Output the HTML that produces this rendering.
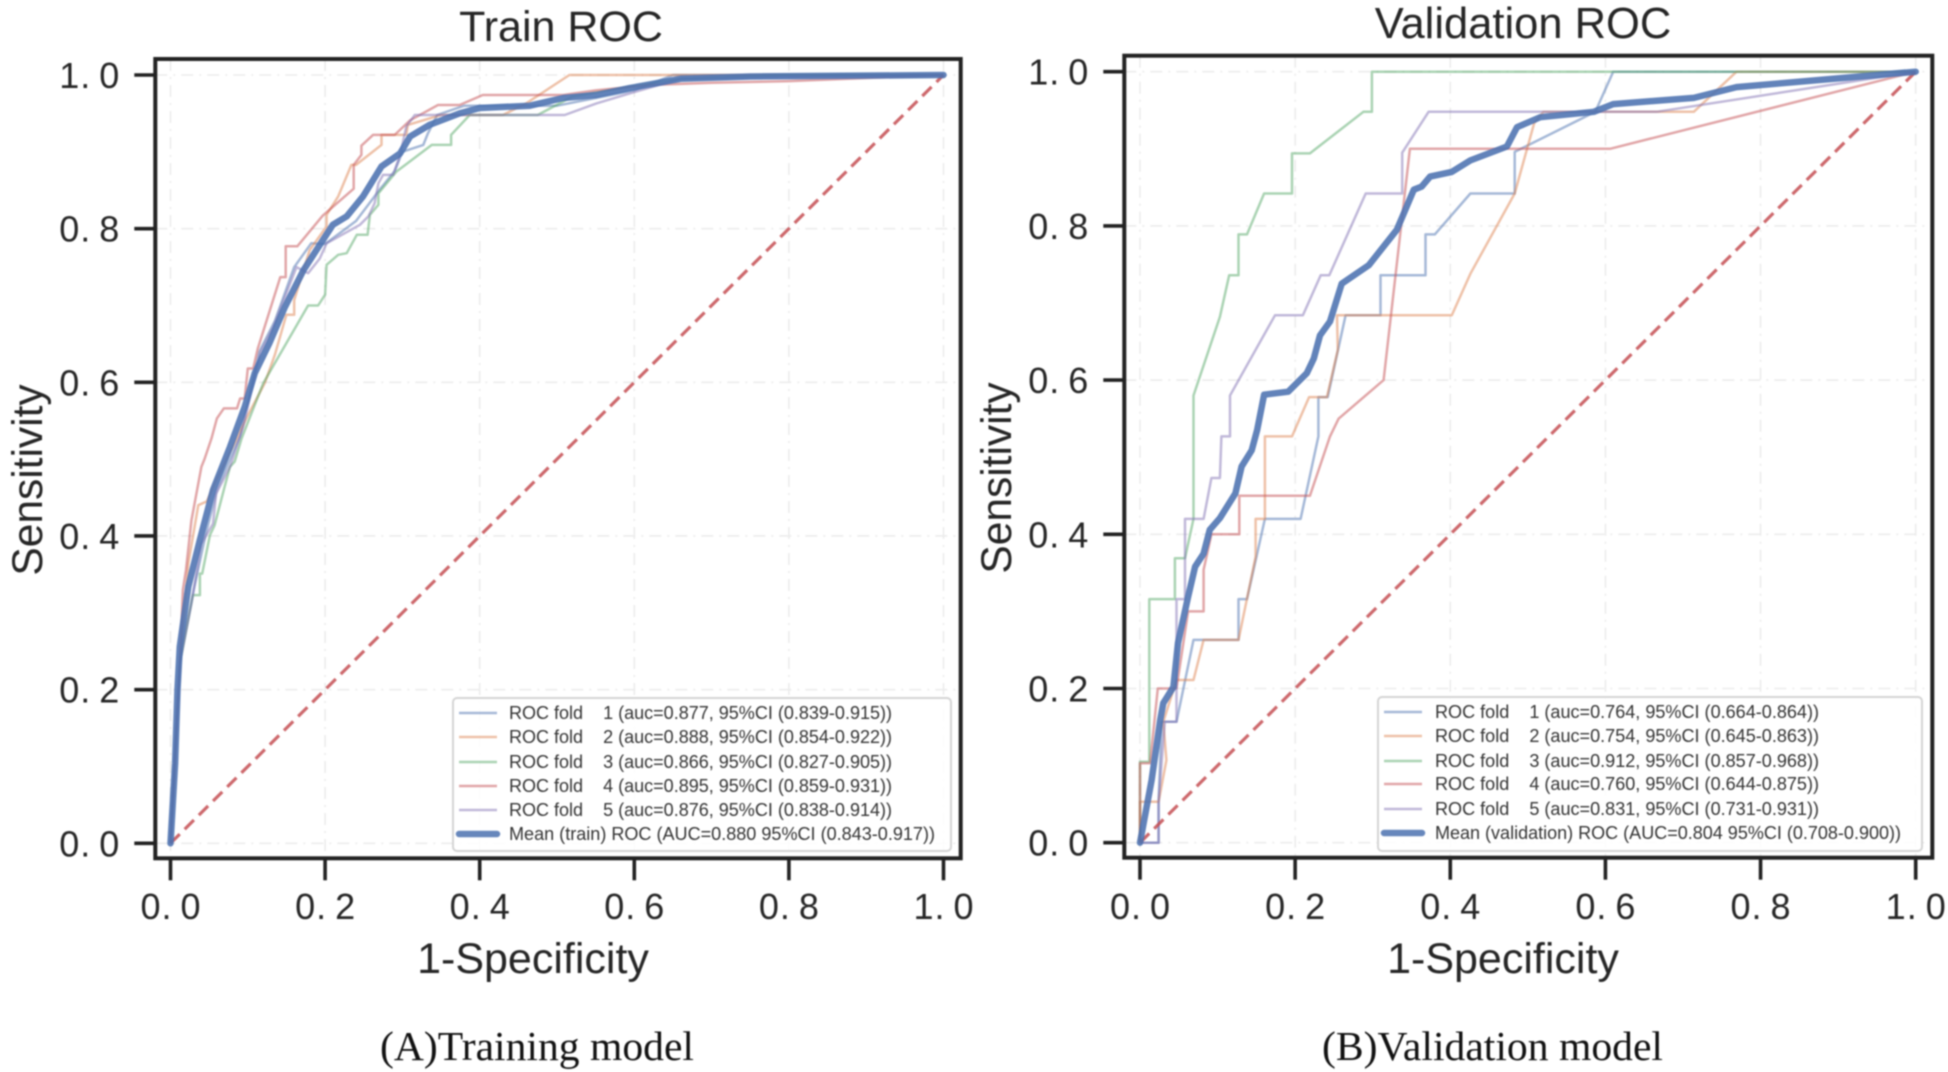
<!DOCTYPE html>
<html lang="en">
<head>
<meta charset="utf-8">
<title>Train and Validation ROC</title>
<style>
html,body{margin:0;padding:0;background:#fff;width:1948px;height:1072px;overflow:hidden}
svg{display:block;filter:blur(0.7px)}
text{font-family:"Liberation Sans",Arial,sans-serif;fill:#262626}
.caption{font-family:"Liberation Serif","Times New Roman",serif;fill:#111}
.leg{font-size:18px;white-space:pre;fill:#333}
</style>
</head>
<body>
<svg id="figure" xmlns="http://www.w3.org/2000/svg" width="1948" height="1072" viewBox="0 0 1948 1072">
  <rect width="1948" height="1072" fill="#fff"/>

  <g id="panel-a"></g>
  <g id="panel-b"></g>

  <text x="561" y="41" font-size="43" text-anchor="middle">Train ROC</text>
  <text x="1523" y="38" font-size="43.5" text-anchor="middle">Validation ROC</text>

  <text x="533" y="973" font-size="43" text-anchor="middle">1-Specificity</text>
  <text x="1503" y="973" font-size="43" text-anchor="middle">1-Specificity</text>
  <text transform="translate(42 480) rotate(-90)" font-size="42.5" text-anchor="middle">Sensitivity</text>
  <text transform="translate(1011 478) rotate(-90)" font-size="42.5" text-anchor="middle">Sensitivity</text>

  <g>
    <rect x="453" y="698" width="498" height="153" rx="4" fill="#fff" fill-opacity="0.85" stroke="#d4d4d4" stroke-width="2"/>
    <line x1="459" x2="497" y1="713" y2="713" stroke="#4C72B0" stroke-opacity=".5" stroke-width="2.5"/>
    <line x1="459" x2="497" y1="737" y2="737" stroke="#DD8452" stroke-opacity=".5" stroke-width="2.5"/>
    <line x1="459" x2="497" y1="762" y2="762" stroke="#55A868" stroke-opacity=".5" stroke-width="2.5"/>
    <line x1="459" x2="497" y1="786" y2="786" stroke="#C44E52" stroke-opacity=".5" stroke-width="2.5"/>
    <line x1="459" x2="497" y1="810" y2="810" stroke="#8172B3" stroke-opacity=".5" stroke-width="2.5"/>
    <line x1="459" x2="497" y1="834" y2="834" stroke="#4C72B0" stroke-opacity=".85" stroke-width="6.5" stroke-linecap="round"/>
    <text class="leg" x="509" y="719" textLength="383" lengthAdjust="spacingAndGlyphs">ROC fold    1 (auc=0.877, 95%CI (0.839-0.915))</text>
    <text class="leg" x="509" y="743" textLength="383" lengthAdjust="spacingAndGlyphs">ROC fold    2 (auc=0.888, 95%CI (0.854-0.922))</text>
    <text class="leg" x="509" y="768" textLength="383" lengthAdjust="spacingAndGlyphs">ROC fold    3 (auc=0.866, 95%CI (0.827-0.905))</text>
    <text class="leg" x="509" y="792" textLength="383" lengthAdjust="spacingAndGlyphs">ROC fold    4 (auc=0.895, 95%CI (0.859-0.931))</text>
    <text class="leg" x="509" y="816" textLength="383" lengthAdjust="spacingAndGlyphs">ROC fold    5 (auc=0.876, 95%CI (0.838-0.914))</text>
    <text class="leg" x="509" y="840" textLength="426" lengthAdjust="spacingAndGlyphs">Mean (train) ROC (AUC=0.880 95%CI (0.843-0.917))</text>
  </g>

  <g>
    <rect x="1378" y="697" width="544" height="154" rx="4" fill="#fff" fill-opacity="0.85" stroke="#d4d4d4" stroke-width="2"/>
    <line x1="1384" x2="1422" y1="712" y2="712" stroke="#4C72B0" stroke-opacity=".5" stroke-width="2.5"/>
    <line x1="1384" x2="1422" y1="736" y2="736" stroke="#DD8452" stroke-opacity=".5" stroke-width="2.5"/>
    <line x1="1384" x2="1422" y1="761" y2="761" stroke="#55A868" stroke-opacity=".5" stroke-width="2.5"/>
    <line x1="1384" x2="1422" y1="784" y2="784" stroke="#C44E52" stroke-opacity=".5" stroke-width="2.5"/>
    <line x1="1384" x2="1422" y1="809" y2="809" stroke="#8172B3" stroke-opacity=".5" stroke-width="2.5"/>
    <line x1="1384" x2="1422" y1="833" y2="833" stroke="#4C72B0" stroke-opacity=".85" stroke-width="6.5" stroke-linecap="round"/>
    <text class="leg" x="1435" y="718" textLength="384" lengthAdjust="spacingAndGlyphs">ROC fold    1 (auc=0.764, 95%CI (0.664-0.864))</text>
    <text class="leg" x="1435" y="742" textLength="384" lengthAdjust="spacingAndGlyphs">ROC fold    2 (auc=0.754, 95%CI (0.645-0.863))</text>
    <text class="leg" x="1435" y="767" textLength="384" lengthAdjust="spacingAndGlyphs">ROC fold    3 (auc=0.912, 95%CI (0.857-0.968))</text>
    <text class="leg" x="1435" y="790" textLength="384" lengthAdjust="spacingAndGlyphs">ROC fold    4 (auc=0.760, 95%CI (0.644-0.875))</text>
    <text class="leg" x="1435" y="815" textLength="384" lengthAdjust="spacingAndGlyphs">ROC fold    5 (auc=0.831, 95%CI (0.731-0.931))</text>
    <text class="leg" x="1435" y="839" textLength="466" lengthAdjust="spacingAndGlyphs">Mean (validation) ROC (AUC=0.804 95%CI (0.708-0.900))</text>
  </g>

  <text class="caption" x="380" y="1060" font-size="41" textLength="314" lengthAdjust="spacingAndGlyphs">(A)Training model</text>
  <text class="caption" x="1322" y="1060" font-size="41" textLength="341" lengthAdjust="spacingAndGlyphs">(B)Validation model</text>
</svg>

<script>
var tickValues = [0, 0.2, 0.4, 0.6, 0.8, 1.0];
var tickLabels = ['0. 0', '0. 2', '0. 4', '0. 6', '0. 8', '1. 0'];
var diagonalX = [0, 1];
var diagonalY = [0, 1];

/* Train panel series */
var trainFold1X = [0,0.012,0.03,0.045,0.06,0.09,0.115,0.135,0.16,0.182,0.2,0.24,0.27,0.29,0.3,0.327,0.333,0.345,0.38,0.5,0.55,0.6,0.65,1];
var trainFold1Y = [0,0.234,0.33,0.4,0.46,0.53,0.64,0.68,0.75,0.781,0.78,0.81,0.85,0.875,0.9,0.909,0.924,0.948,0.96,0.96,0.97,0.98,1,1];
var trainFold2X = [0,0.006,0.012,0.023,0.036,0.047,0.06,0.085,0.1,0.122,0.135,0.15,0.16,0.16,0.18,0.202,0.202,0.217,0.234,0.24,0.273,0.273,0.305,0.307,0.35,0.43,0.46,0.516,0.594,1];
var trainFold2Y = [0,0.104,0.234,0.364,0.44,0.445,0.475,0.525,0.557,0.599,0.636,0.688,0.688,0.707,0.772,0.803,0.818,0.842,0.883,0.883,0.909,0.922,0.922,0.935,0.948,0.948,0.963,1,1,1];
var trainFold3X = [0,0.012,0.029,0.038,0.038,0.041,0.051,0.057,0.07,0.077,0.083,0.092,0.12,0.178,0.191,0.2,0.202,0.217,0.228,0.241,0.255,0.258,0.269,0.269,0.292,0.338,0.363,0.363,0.387,0.475,0.52,0.594,0.66,0.8,1];
var trainFold3Y = [0,0.234,0.323,0.323,0.351,0.351,0.401,0.414,0.464,0.49,0.497,0.527,0.599,0.7,0.7,0.714,0.753,0.766,0.768,0.792,0.792,0.818,0.831,0.846,0.874,0.909,0.909,0.922,0.948,0.948,0.972,0.985,0.995,1,1];
var trainFold4X = [0,0.003,0.012,0.016,0.02,0.027,0.04,0.044,0.053,0.06,0.069,0.086,0.09,0.096,0.1,0.107,0.113,0.142,0.149,0.149,0.164,0.197,0.237,0.237,0.247,0.247,0.262,0.29,0.31,0.346,0.374,0.404,0.508,0.55,0.62,0.7,0.8,1];
var trainFold4Y = [0,0.06,0.234,0.33,0.356,0.42,0.49,0.5,0.527,0.553,0.566,0.566,0.579,0.579,0.618,0.618,0.644,0.737,0.737,0.777,0.777,0.817,0.852,0.883,0.896,0.908,0.922,0.922,0.941,0.961,0.961,0.974,0.974,0.98,0.987,0.99,0.992,1];
var trainFold5X = [0,0.012,0.027,0.04,0.055,0.059,0.077,0.094,0.116,0.133,0.163,0.178,0.193,0.202,0.245,0.256,0.264,0.269,0.275,0.288,0.297,0.305,0.316,0.51,0.551,0.594,0.66,1];
var trainFold5Y = [0,0.234,0.312,0.39,0.416,0.455,0.49,0.542,0.638,0.672,0.75,0.742,0.761,0.781,0.805,0.816,0.833,0.859,0.87,0.87,0.896,0.933,0.948,0.948,0.963,0.976,0.995,1];
var trainMeanX = [0,0.006,0.009,0.012,0.023,0.038,0.055,0.077,0.096,0.109,0.128,0.148,0.172,0.197,0.21,0.228,0.249,0.273,0.297,0.31,0.335,0.374,0.4,0.465,0.508,0.551,0.594,0.66,0.75,1];
var trainMeanY = [0,0.104,0.2,0.256,0.334,0.395,0.46,0.516,0.568,0.612,0.651,0.698,0.746,0.785,0.805,0.816,0.842,0.881,0.898,0.92,0.935,0.95,0.957,0.96,0.97,0.974,0.983,0.995,0.998,1];

/* Validation panel series */
var valFold1X = [0,0.024,0.024,0.028,0.047,0.069,0.127,0.127,0.138,0.161,0.207,0.23,0.23,0.242,0.265,0.31,0.31,0.368,0.368,0.38,0.426,0.483,0.483,0.587,0.61,1];
var valFold1Y = [0,0,0.053,0.157,0.157,0.263,0.263,0.316,0.316,0.42,0.42,0.527,0.578,0.578,0.684,0.684,0.736,0.736,0.789,0.789,0.842,0.842,0.896,0.948,1,1];
var valFold2X = [0,0,0.024,0.034,0.03,0.047,0.069,0.082,0.127,0.149,0.149,0.161,0.161,0.196,0.218,0.241,0.255,0.254,0.402,0.426,0.483,0.508,0.52,0.714,0.769,1];
var valFold2Y = [0,0.053,0.053,0.107,0.157,0.211,0.211,0.263,0.263,0.371,0.42,0.42,0.527,0.527,0.578,0.578,0.639,0.684,0.684,0.738,0.842,0.933,0.948,0.948,1,1];
var valFold3X = [0,0,0.012,0.012,0.045,0.045,0.058,0.069,0.069,0.103,0.115,0.127,0.127,0.138,0.16,0.196,0.196,0.219,0.288,0.299,0.299,1];
var valFold3Y = [0,0.105,0.105,0.316,0.316,0.369,0.369,0.42,0.58,0.682,0.736,0.736,0.789,0.789,0.842,0.842,0.894,0.894,0.948,0.948,1,1];
var valFold4X = [0,0,0.013,0.023,0.047,0.062,0.082,0.082,0.092,0.128,0.128,0.219,0.245,0.256,0.314,0.348,0.606,1];
var valFold4Y = [0,0.103,0.103,0.2,0.2,0.3,0.3,0.354,0.4,0.4,0.45,0.45,0.527,0.55,0.6,0.9,0.9,1];
var valFold5X = [0,0.024,0.024,0.032,0.047,0.047,0.058,0.058,0.082,0.092,0.103,0.105,0.116,0.116,0.174,0.21,0.233,0.244,0.291,0.338,0.338,0.372,0.666,1];
var valFold5Y = [0,0,0.053,0.157,0.157,0.316,0.316,0.42,0.42,0.473,0.473,0.527,0.527,0.58,0.684,0.684,0.736,0.736,0.842,0.842,0.895,0.948,0.948,1];
var valMeanX = [0,0.015,0.026,0.03,0.043,0.049,0.062,0.071,0.082,0.09,0.103,0.123,0.131,0.144,0.151,0.16,0.191,0.215,0.224,0.232,0.245,0.26,0.295,0.331,0.34,0.353,0.363,0.374,0.402,0.426,0.473,0.486,0.516,0.585,0.61,0.714,0.769,1];
var valMeanY = [0,0.081,0.159,0.181,0.202,0.259,0.319,0.358,0.375,0.406,0.421,0.453,0.488,0.509,0.535,0.581,0.585,0.609,0.628,0.658,0.676,0.725,0.749,0.795,0.816,0.847,0.851,0.864,0.87,0.885,0.903,0.928,0.941,0.948,0.958,0.966,0.98,1];

var NS = 'http://www.w3.org/2000/svg';
var foldColors = ['#4C72B0', '#DD8452', '#55A868', '#C44E52', '#8172B3'];

function make(tag, parent, attrs) {
  var el = document.createElementNS(NS, tag);
  for (var k in attrs) el.setAttribute(k, attrs[k]);
  parent.appendChild(el);
  return el;
}

function drawPanel(groupId, prefix, frame, xRange, yRange, folds, mean) {
  var g = document.getElementById(groupId);
  function sx(v) { return xRange[0] + v * (xRange[1] - xRange[0]); }
  function sy(v) { return yRange[0] + v * (yRange[1] - yRange[0]); }
  function pathOf(xs, ys) {
    var d = '';
    for (var i = 0; i < xs.length; i++) d += (i ? 'L' : 'M') + sx(xs[i]).toFixed(1) + ' ' + sy(ys[i]).toFixed(1);
    return d;
  }

  tickValues.forEach(function (t, i) {
    var gx = make('line', g, {x1: sx(t), x2: sx(t), y1: frame.top, y2: frame.bottom, stroke: '#ececec', 'stroke-width': 1.6, 'stroke-dasharray': '12 6 2 6'});
    
    
    var gy = make('line', g, {x1: frame.left, x2: frame.right, y1: sy(t), y2: sy(t), stroke: '#ececec', 'stroke-width': 1.6, 'stroke-dasharray': '12 6 2 6'});
    
    
  });

  folds.forEach(function (f, i) {
    var p = make('path', g, {d: pathOf(f[0], f[1]), fill: 'none', stroke: foldColors[i], 'stroke-opacity': 0.5, 'stroke-width': 2.5, 'stroke-linejoin': 'round'});
    
    
  });

  var diag = make('path', g, {d: pathOf(diagonalX, diagonalY), fill: 'none', stroke: '#C44E52', 'stroke-opacity': 0.85, 'stroke-width': 3.2, 'stroke-dasharray': '13 7'});
  
  

  var m = make('path', g, {d: pathOf(mean[0], mean[1]), fill: 'none', stroke: '#4C72B0', 'stroke-opacity': 0.88, 'stroke-width': 6.5, 'stroke-linejoin': 'round', 'stroke-linecap': 'round'});
  
  

  var box = make('rect', g, {x: frame.left, y: frame.top, width: frame.right - frame.left, height: frame.bottom - frame.top, fill: 'none', stroke: '#222', 'stroke-width': 4});
  
  

  tickValues.forEach(function (t, i) {
    var tx = make('line', g, {x1: sx(t), x2: sx(t), y1: frame.bottom, y2: frame.bottom + 22, stroke: '#222', 'stroke-width': 3.6});
    
    
    var ty = make('line', g, {x1: frame.left - 21, x2: frame.left, y1: sy(t), y2: sy(t), stroke: '#222', 'stroke-width': 3.6});
    
    

    var lx = make('text', g, {x: sx(t) + 0.5, y: 919, 'font-size': 36, 'letter-spacing': 1, 'word-spacing': -3, 'text-anchor': 'middle'});
    lx.textContent = tickLabels[i];
    
    
    var ly = make('text', g, {x: frame.left - 35, y: sy(t) + 13, 'font-size': 36, 'letter-spacing': 1, 'word-spacing': -3, 'text-anchor': 'end'});
    ly.textContent = tickLabels[i];
    
    
  });
}

drawPanel('panel-a', 'train',
  {left: 155.3, right: 960.7, top: 59, bottom: 858.3},
  [170.5, 943.5], [843.3, 75],
  [[trainFold1X, trainFold1Y], [trainFold2X, trainFold2Y], [trainFold3X, trainFold3Y], [trainFold4X, trainFold4Y], [trainFold5X, trainFold5Y]],
  [trainMeanX, trainMeanY]);

drawPanel('panel-b', 'validation',
  {left: 1124.3, right: 1932.3, top: 55.7, bottom: 857.7},
  [1140, 1915.7], [842.7, 71.7],
  [[valFold1X, valFold1Y], [valFold2X, valFold2Y], [valFold3X, valFold3Y], [valFold4X, valFold4Y], [valFold5X, valFold5Y]],
  [valMeanX, valMeanY]);

/* Keep legends and text above the panels */
var svgRoot = document.getElementById('figure');
Array.prototype.slice.call(svgRoot.children).forEach(function (el) {
  if (el.id !== 'panel-a' && el.id !== 'panel-b' && el.tagName.toLowerCase() !== 'rect') svgRoot.appendChild(el);
});
</script>
</body>
</html>
